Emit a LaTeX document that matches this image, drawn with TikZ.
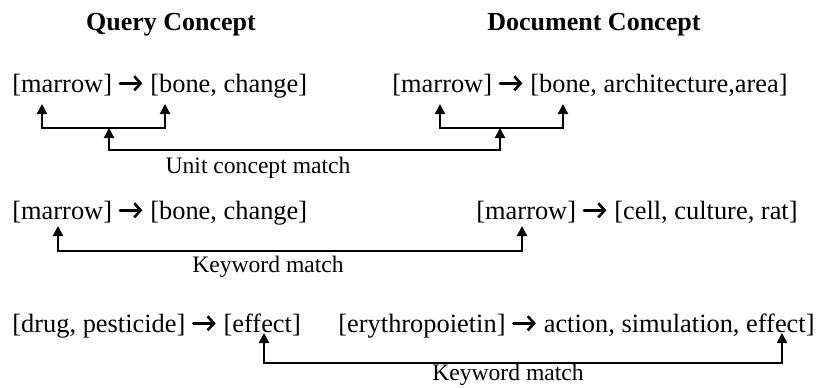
\documentclass[tikz,border=0pt]{standalone}
\usepackage{fontspec}
\setmainfont{Liberation Serif}
\usetikzlibrary{arrows.meta, positioning}
% heavy arrow between the two bracketed groups
\newcommand{\concarrow}{\tikz[baseline=-0.33em]\draw[line width=1.3pt, line cap=round,
  -{Straight Barb[length=3.2pt,width=7pt,line width=1.3pt]}] (0,0) -- (0.85em,0);}

\begin{document}
\begin{tikzpicture}[x=0.5pt, y=-0.5pt,
  txt/.style={anchor=base west, inner sep=0pt, font=\fontsize{13.2}{16}\selectfont},
  head/.style={anchor=base, inner sep=0pt, font=\fontsize{13}{15}\selectfont\bfseries},
  lbl/.style={anchor=base, inner sep=0pt, font=\fontsize{11.8}{14}\selectfont},
  link/.style={line width=1.1pt,
    {Triangle[length=5pt,width=5pt]}-{Triangle[length=5pt,width=5pt]}},
]
\useasboundingbox (0,0) rectangle (823,387);

\node[head] (qhead) at (171,30) {Query Concept};
\node[head, anchor=base west] (dhead) at (487,30) {Document Concept};

\node[txt] (q1) at (12,92) {[marrow] \concarrow{} [bone, change]};
\node[txt] (d1) at (392,92) {[marrow] \concarrow{} [bone, architecture,area]};
\node[txt] (q2) at (12,219) {[marrow] \concarrow{} [bone, change]};
\node[txt] (d2) at (476,219) {[marrow] \concarrow{} [cell, culture, rat]};
\node[txt] (q3) at (12,332) {[drug, pesticide] \concarrow{} [effect]};
\node[txt] (d3) at (338,332) {[erythropoietin] \concarrow{} action, simulation, effect]};

\coordinate (qa) at (42,104);  \coordinate (qb) at (165,104);
\coordinate (da) at (440,104); \coordinate (db) at (563,104);
\coordinate (qj) at (109,128); \coordinate (dj) at (500,128);
\draw[link] (qa) -- ++(0,24) -| (qb);
\draw[link] (da) -- ++(0,24) -| (db);
\draw[link] (qj) -- ++(0,22) -| (dj);
\node[lbl] (unit) at (258,173) {Unit concept match};

\coordinate (q2a) at (58,226); \coordinate (d2a) at (522,226);
\draw[link] (q2a) -- ++(0,25) -| (d2a);
\node[lbl] (kw1) at (268,272) {Keyword match};

\coordinate (q3a) at (264,333); \coordinate (d3a) at (782,333);
\draw[link] (q3a) -- ++(0,30) -| (d3a);
\node[lbl] (kw2) at (508,380) {Keyword match};
\end{tikzpicture}
\end{document}
